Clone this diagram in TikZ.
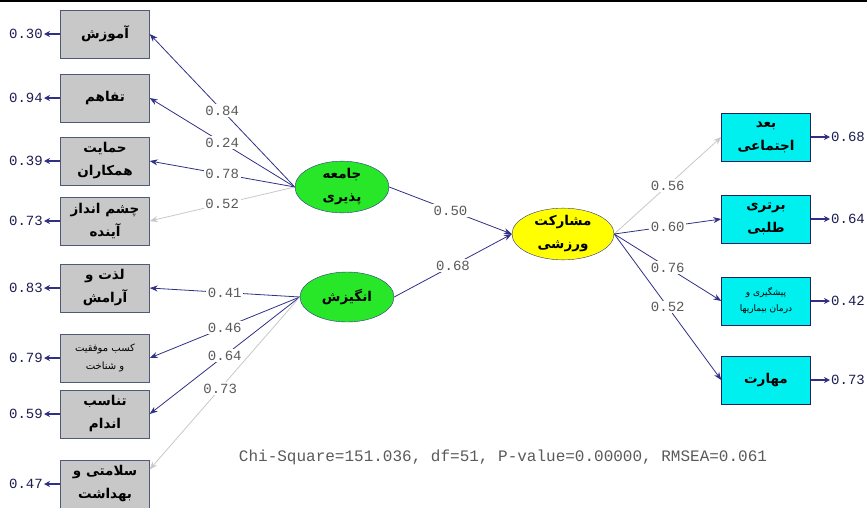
\documentclass[tikz,border=0pt]{standalone}
\usepackage{fontspec}
\newfontfamily\arabicfont[Script=Arabic]{DejaVu Sans}
\newfontfamily\numfont{Liberation Mono}
\TeXXeTstate=1
\usetikzlibrary{shapes.geometric,arrows.meta,positioning}

\definecolor{pathblue}{RGB}{48,48,135}
\definecolor{faintgray}{RGB}{200,200,200}
\definecolor{boxgray}{RGB}{200,200,200}
\definecolor{boxline}{RGB}{80,90,120}
\definecolor{boxcyan}{RGB}{0,240,240}
\definecolor{latgreen}{RGB}{40,230,40}
\definecolor{latyellow}{RGB}{255,255,0}
\definecolor{valgray}{RGB}{90,90,90}

\newcommand{\fa}[1]{\beginR #1\endR}

\tikzset{
  obsleft/.style={draw=boxline,fill=boxgray,minimum width=89pt,minimum height=48pt,
    inner sep=1pt,align=center,font=\arabicfont\bfseries\fontsize{13.5}{23}\selectfont},
  obsright/.style={obsleft,fill=boxcyan,draw=pathblue!70!black},
  latent/.style={ellipse,draw=pathblue,fill=latgreen,minimum width=94pt,minimum height=50pt,
    inner sep=0pt,align=center,font=\arabicfont\bfseries\fontsize{13.5}{23}\selectfont},
  errval/.style={font=\numfont\fontsize{14}{14}\selectfont,text=pathblue!60!black,inner sep=1pt},
  coef/.style={font=\numfont\fontsize{14}{14}\selectfont,text=valgray,fill=white,inner sep=1.5pt},
  path/.style={draw=pathblue,line width=0.8pt,-{Stealth[length=8pt,width=6pt]}},
  weak/.style={draw=faintgray,line width=0.8pt,-{Stealth[length=8pt,width=6pt]}},
  err/.style={draw=pathblue,line width=1.2pt,-{Stealth[length=6pt,width=6pt]}}
}

\begin{document}
\begin{tikzpicture}[x=1pt,y=-1pt,on grid]
  \useasboundingbox (0,0) rectangle (867,507);
  \draw[line width=2pt] (0,1) -- (867,1);

  % indicators, left
  \node[obsleft] (amuz)   at (105,34)  {\fa{آموزش}};
  \node[obsleft] (tafahom) at (105,98) {\fa{تفاهم}};
  \node[obsleft] (hemayat) at (105,161) {\fa{حمایت}\\\fa{همکاران}};
  \node[obsleft] (cheshm) at (105,221) {\fa{چشم انداز}\\\fa{آینده}};
  \node[obsleft] (lezzat) at (105,288) {\fa{لذت و}\\\fa{آرامش}};
  \node[obsleft,font=\arabicfont\fontsize{10}{18}\selectfont] (kasb) at (105,358)
    {\fa{کسب موفقیت}\\\fa{و شناخت}};
  \node[obsleft] (tanasob) at (105,414) {\fa{تناسب}\\\fa{اندام}};
  \node[obsleft] (salamat) at (105,484) {\fa{سلامتی و}\\\fa{بهداشت}};

  % latent variables
  \node[latent] (jamee) at (342,187) {\fa{جامعه}\\\fa{پذیری}};
  \node[latent] (angizesh) at (347,297) {\fa{انگیزش}};
  \node[latent,fill=latyellow,minimum width=102pt] (mosharekat) at (563,234)
    {\fa{مشارکت}\\\fa{ورزشی}};

  % indicators, right
  \node[obsright] (bod) at (766,137) {\fa{بعد}\\\fa{اجتماعی}};
  \node[obsright] (bartari) at (766,219) {\fa{برتری}\\\fa{طلبی}};
  \node[obsright,font=\arabicfont\fontsize{9}{16}\selectfont] (pishgiri) at (766,301)
    {\fa{پیشگیری و}\\\fa{درمان بیماریها}};
  \node[obsright] (maharat) at (766,380) {\fa{مهارت}};

  % error variances
  \node[errval] (e1) [left=79pt of amuz] {0.30};
  \node[errval] (e2) [left=79pt of tafahom] {0.94};
  \node[errval] (e3) [left=79pt of hemayat] {0.39};
  \node[errval] (e4) [left=79pt of cheshm] {0.73};
  \node[errval] (e5) [left=79pt of lezzat] {0.83};
  \node[errval] (e6) [left=79pt of kasb] {0.79};
  \node[errval] (e7) [left=79pt of tanasob] {0.59};
  \node[errval] (e8) [left=79pt of salamat] {0.47};
  \node[errval] (e9) [right=82pt of bod] {0.68};
  \node[errval] (e10) [right=82pt of bartari] {0.64};
  \node[errval] (e11) [right=82pt of pishgiri] {0.42};
  \node[errval] (e12) [right=82pt of maharat] {0.73};

  \foreach \b/\e in {amuz/e1,tafahom/e2,hemayat/e3,cheshm/e4,lezzat/e5,kasb/e6,tanasob/e7,salamat/e8}
    \draw[err] (\b.west) -- (\e.east);
  \foreach \b/\e in {bod/e9,bartari/e10,pishgiri/e11,maharat/e12}
    \draw[err] (\b.east) -- (\e.west);

  % loadings
  \path (jamee.west) edge[path] node[coef] {0.84} (amuz.east)
        (jamee.west) edge[path] node[coef] {0.24} (tafahom.east)
        (jamee.west) edge[path] node[coef] {0.78} (hemayat.east)
        (jamee.west) edge[weak] node[coef] {0.52} (cheshm.east);
  \path (angizesh.west) edge[path] node[coef] {0.41} (lezzat.east)
        (angizesh.west) edge[path] node[coef] {0.46} (kasb.east)
        (angizesh.west) edge[path] node[coef] {0.64} (tanasob.east)
        (angizesh.west) edge[weak] node[coef,pos=0.53] {0.73} (salamat.18);
  \path (mosharekat.east) edge[weak] node[coef] {0.56} (bod.west)
        (mosharekat.east) edge[path] node[coef] {0.60} (bartari.west)
        (mosharekat.east) edge[path] node[coef] {0.76} (pishgiri.west)
        (mosharekat.east) edge[path] node[coef] {0.52} (maharat.west);
  % structural paths
  \path (jamee.east) edge[path] node[coef] {0.50} (mosharekat.west)
        (angizesh.east) edge[path] node[coef] {0.68} (mosharekat.west);

  \node[font=\numfont\fontsize{16}{16}\selectfont,text=valgray] (fit) at (503,457)
    {Chi-Square=151.036, df=51, P-value=0.00000, RMSEA=0.061};
\end{tikzpicture}
\end{document}
